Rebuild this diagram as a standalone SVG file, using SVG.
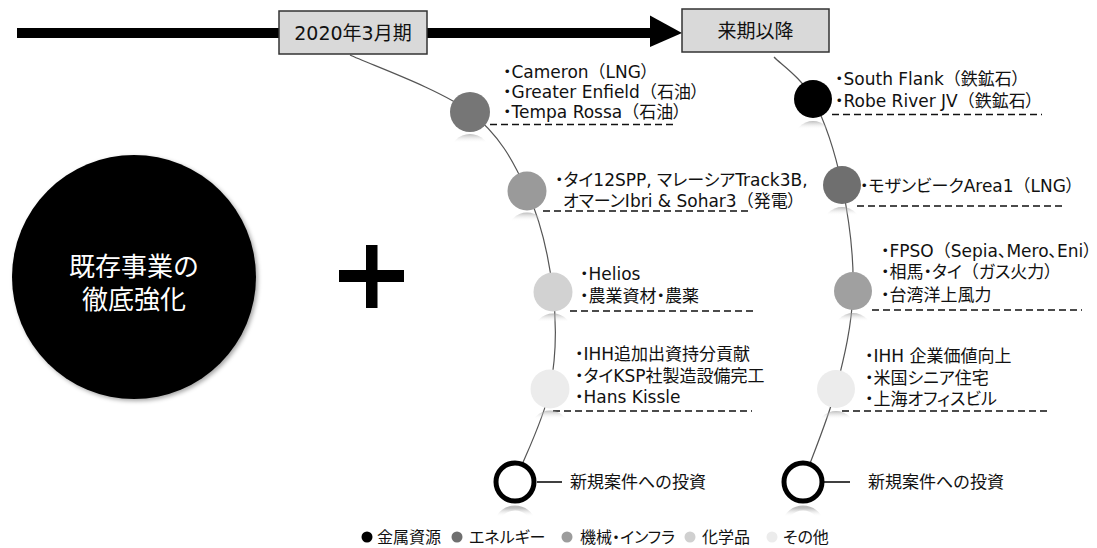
<svg xmlns="http://www.w3.org/2000/svg" width="1097" height="548" viewBox="0 0 1097 548">
<style>
.t{font-family:"DejaVu Sans","Noto Sans CJK JP",sans-serif;font-size:17px;fill:#111;font-feature-settings:"palt" 1}
.fw{font-feature-settings:normal}
.n{font-family:"DejaVu Sans","Noto Sans CJK JP",sans-serif;font-size:17px;fill:#111}
.bx{font-family:"DejaVu Sans","Noto Sans CJK JP",sans-serif;font-size:19px;fill:#111;text-anchor:middle}
.lg{font-family:"DejaVu Sans","Noto Sans CJK JP",sans-serif;font-size:16px;fill:#111;font-feature-settings:"palt" 1}
.big{font-family:"DejaVu Sans","Noto Sans CJK JP",sans-serif;font-size:26px;fill:#fff;text-anchor:middle}
.dash{stroke:#111;stroke-width:1.3;stroke-dasharray:7 4;fill:none}
.curve{stroke:#555;stroke-width:1.2;fill:none}
.box{fill:#d9d9d9;stroke:#333;stroke-width:1.5}
.ring{fill:#fff;stroke:#000;stroke-width:5}
.refl{fill:url(#rf)}
.refr{fill:none;stroke:url(#rf);stroke-width:5}
</style>
<defs>
<linearGradient id="rf" x1="0" y1="0" x2="0" y2="1">
<stop offset="0" stop-color="#999" stop-opacity="0.65"/>
<stop offset="0.22" stop-color="#fff" stop-opacity="0"/>
</linearGradient>
<filter id="sh" x="-10%" y="-10%" width="125%" height="125%">
<feDropShadow dx="2" dy="2" stdDeviation="2" flood-color="#000" flood-opacity="0.35"/>
</filter>
</defs>

<g id="timeline">
<rect x="17" y="28" width="634" height="10" fill="#000"/>
<polygon points="650,15.5 682,33 650,47" fill="#000"/>
</g>

<g id="connectors">
<path class="curve" d="M350,55 C370,64.5 440.5,89.3 470,112 C499.5,134.7 513.2,161 527,191 C540.8,221 549.2,259 553,292 C556.8,325 556.3,357.3 550,389 C543.7,420.7 522,462 515,482"/>
<path class="curve" d="M774,57 C780.5,64 801.7,77.7 813,99 C824.3,120.3 835.3,153 842,185 C848.7,217 854,257 853,291 C852,325 844.3,357.2 836,389 C827.7,420.8 810,462 803,482"/>
<line class="dash" x1="490" y1="124.5" x2="677" y2="124.5"/>
<line class="dash" x1="543" y1="211" x2="752" y2="211"/>
<line class="dash" x1="570" y1="311" x2="755" y2="311"/>
<line class="dash" x1="553" y1="411" x2="752" y2="411"/>
<line class="dash" x1="832" y1="114.5" x2="1042" y2="114.5"/>
<line class="dash" x1="857" y1="206" x2="1065" y2="206"/>
<line class="dash" x1="872" y1="310" x2="1082" y2="310"/>
<line class="dash" x1="842" y1="411" x2="1050" y2="411"/>
<line x1="537" y1="482" x2="562" y2="482" stroke="#000" stroke-width="1.5"/>
<line x1="823" y1="482" x2="850" y2="482" stroke="#000" stroke-width="1.5"/>
</g>

<g id="box-2020">
<rect class="box" x="279" y="11" width="148" height="43"/>
<text class="bx" x="353" y="39.5">2020年3月期</text>
</g>
<g id="box-next">
<rect class="box" x="682" y="9" width="147" height="43"/>
<text class="bx" x="755.5" y="37.5">来期以降</text>
</g>

<g id="existing">
<circle cx="134" cy="277" r="122" fill="#000" filter="url(#sh)"/>
<text class="big" x="134" y="276">既存事業の</text>
<text class="big" x="134" y="309">徹底強化</text>
</g>

<g id="plus">
<rect x="366" y="245" width="11.5" height="63" fill="#000"/>
<rect x="339" y="270" width="65" height="12" fill="#000"/>
</g>

<g id="L1">
<circle class="refl" cx="470" cy="154" r="20"/>
<circle cx="470" cy="112" r="20" fill="#767676"/>
<text class="t" x="503" y="78">・Cameron<tspan class="fw">（</tspan>LNG）</text>
<text class="t" x="503" y="98">・Greater Enfield<tspan class="fw">（</tspan>石油）</text>
<text class="t" x="503" y="118">・Tempa Rossa<tspan class="fw">（</tspan>石油）</text>
</g>
<g id="L2">
<circle class="refl" cx="527" cy="232" r="19.5"/>
<circle cx="527" cy="191" r="19.5" fill="#9a9a9a"/>
<text class="t" x="555" y="186">・タイ12SPP, マレーシアTrack3B,</text>
<text class="t" x="563" y="206.5">オマーンIbri &amp; Sohar3<tspan class="fw">（</tspan>発電）</text>
</g>
<g id="L3">
<circle class="refl" cx="553" cy="333" r="19.5"/>
<circle cx="553" cy="292" r="19.5" fill="#d2d2d2"/>
<text class="t" x="580" y="279.5">・Helios</text>
<text class="t" x="580" y="301.5">・農業資材・農薬</text>
</g>
<g id="L4">
<circle class="refl" cx="550" cy="430" r="19.5"/>
<circle cx="550" cy="389" r="19.5" fill="#ececec"/>
<text class="t" x="575" y="359.5">・IHH追加出資持分貢献</text>
<text class="t" x="575" y="381.5">・タイKSP社製造設備完工</text>
<text class="t" x="575" y="402.5">・Hans Kissle</text>
</g>
<g id="L5">
<circle class="refr" cx="515" cy="527" r="19"/>
<circle class="ring" cx="515" cy="482" r="19"/>
<text class="n" x="570" y="488">新規案件への投資</text>
</g>

<g id="R1">
<circle class="refl" cx="813" cy="140" r="19"/>
<circle cx="813" cy="99" r="19" fill="#000"/>
<text class="t" x="835" y="85">・South Flank<tspan class="fw">（</tspan>鉄鉱石）</text>
<text class="t" x="835" y="106.5">・Robe River JV<tspan class="fw">（</tspan>鉄鉱石）</text>
</g>
<g id="R2">
<circle class="refl" cx="842" cy="226" r="19"/>
<circle cx="842" cy="185" r="19" fill="#6f6f6f"/>
<text class="t" x="860" y="191.5">・モザンビークArea1<tspan class="fw">（</tspan>LNG）</text>
</g>
<g id="R3">
<circle class="refl" cx="853" cy="332" r="19"/>
<circle cx="853" cy="291" r="19" fill="#a0a0a0"/>
<text class="t" x="881" y="256.5">・FPSO<tspan class="fw">（</tspan>Sepia、Mero、Eni）</text>
<text class="t" x="881" y="277.5">・相馬・タイ<tspan class="fw">（</tspan>ガス火力）</text>
<text class="t" x="881" y="300.5">・台湾洋上風力</text>
</g>
<g id="R4">
<circle class="refl" cx="836" cy="430" r="19"/>
<circle cx="836" cy="389" r="19" fill="#ececec"/>
<text class="t" x="865" y="361.5">・IHH 企業価値向上</text>
<text class="t" x="865" y="384">・米国シニア住宅</text>
<text class="t" x="865" y="405">・上海オフィスビル</text>
</g>
<g id="R5">
<circle class="refr" cx="803" cy="527" r="19"/>
<circle class="ring" cx="803" cy="482" r="19"/>
<text class="n" x="868" y="488">新規案件への投資</text>
</g>

<g id="legend">
<circle cx="367" cy="537" r="5.5" fill="#000"/>
<text class="lg" x="377" y="543">金属資源</text>
<circle cx="457" cy="537" r="5.5" fill="#6f6f6f"/>
<text class="lg" x="469" y="543">エネルギー</text>
<circle cx="567" cy="537" r="5.5" fill="#9c9c9c"/>
<text class="lg" x="580" y="543">機械・インフラ</text>
<circle cx="690" cy="537" r="5.5" fill="#d0d0d0"/>
<text class="lg" x="702" y="543">化学品</text>
<circle cx="772" cy="537" r="5.5" fill="#ececec"/>
<text class="lg" x="783" y="543">その他</text>
</g>
</svg>
